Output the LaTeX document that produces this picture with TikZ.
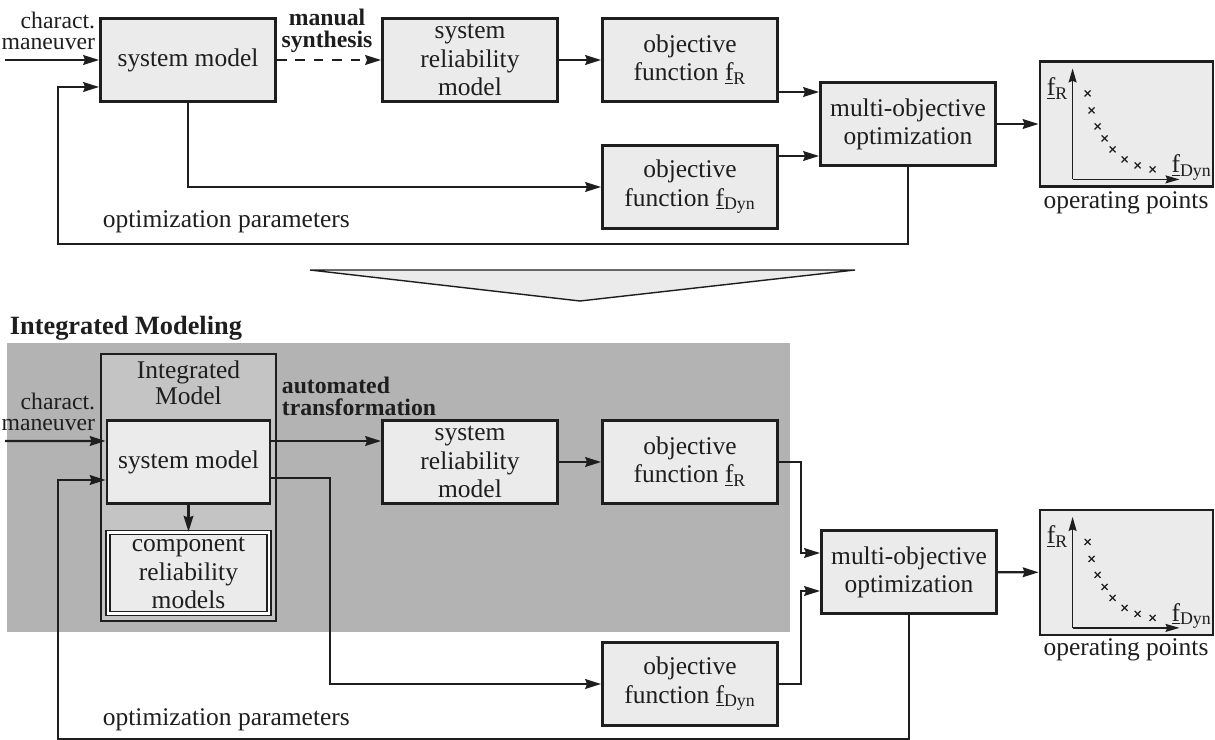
\documentclass[tikz,border=0pt]{standalone}
\usepackage{fontspec}
\setmainfont{Liberation Serif}
\usetikzlibrary{arrows.meta}

\definecolor{ink}{HTML}{1E1E1E}
\definecolor{boxgray}{HTML}{EBEBEB}
\definecolor{bandgray}{HTML}{B3B3B3}
\definecolor{intgray}{HTML}{C4C4C4}

\newcommand{\fsub}[1]{\underline{f}\textsubscript{#1}}

\tikzset{
  block/.style={rectangle, draw=ink, line width=1.6pt, fill=boxgray, align=center,
    minimum width=3.5cm, minimum height=1.66cm, inner sep=2pt,
    font=\fontsize{14.5}{16}\selectfont},
  plotbox/.style={rectangle, draw=ink, line width=1.6pt, fill=boxgray,
    minimum width=3.46cm, minimum height=2.5cm},
  txt/.style={inner sep=1pt, font=\fontsize{14.5}{16}\selectfont},
  boldtxt/.style={inner sep=1pt, align=left, font=\fontsize{13.5}{12.5}\selectfont\bfseries},
  sidetxt/.style={inner sep=1pt, anchor=east, align=right, font=\fontsize{13.5}{12}\selectfont},
}

\begin{document}
\begin{tikzpicture}[x=0.02cm, y=-0.02cm, color=ink, line width=1.3pt,
    >={Stealth[length=9pt, width=5.5pt, inset=1pt]}]
\useasboundingbox (0,0) rectangle (1215,740);

% manual synthesis
\node (man1) at (98,31) [sidetxt] {charact.\\maneuver};
\node (manual) at (327,31) [boldtxt, align=center] {manual\\synthesis};
\node (opt1) at (100,222) [txt, anchor=west] {optimization parameters};

\begin{scope}[every node/.style={block}]
    \node (sm1) at (188,60) {system model};
    \node (srm1) at (470,60) {system\\reliability\\model};
    \node (ofR1) at (690,60) {objective\\function \fsub{R}};
    \node (ofDyn1) at (690,187) {objective\\function \fsub{Dyn}};
    \node (mo1) at (908,124) {multi-objective\\optimization};
\end{scope}
\node (plot1) at (1126.5,124) [plotbox] {};
\node (op1) at (1126,203) [txt] {operating points};

\filldraw[fill=boxgray, line width=0.8pt] (310,270) -- (855,270) -- (580,301) -- cycle;

% integrated modeling
\fill[bandgray] (7,343) rectangle (790,632);
\node (imhead) at (7,328) [inner sep=1pt, anchor=west, font=\fontsize{15}{17}\selectfont\bfseries] {Integrated Modeling};
\node (imodel) at (188.5,487.5) [rectangle, draw, line width=1.6pt, fill=intgray,
    minimum width=3.5cm, minimum height=5.34cm] {};
\node (imtext) at (188.5,383) [txt, align=center, font=\fontsize{14.5}{15}\selectfont] {Integrated\\Model};
\node (man2) at (98,412) [sidetxt] {charact.\\maneuver};
\node (auto) at (279,396) [boldtxt, anchor=west] {automated\\transformation};
\node (opt2) at (100,720) [txt, anchor=west] {optimization parameters};

\begin{scope}[every node/.style={block}]
    \node (sm2) at (188.5,462) [minimum width=3.26cm] {system model};
    \node (comp) at (188.5,573) [minimum width=3.22cm, minimum height=1.62cm,
        line width=0.9pt, double, double distance=1.2pt] {component\\reliability\\models};
    \node (srm2) at (470,462) {system\\reliability\\model};
    \node (ofR2) at (690,462) {objective\\function \fsub{R}};
    \node (ofDyn2) at (690,684) {objective\\function \fsub{Dyn}};
    \node (mo2) at (909,572) {multi-objective\\optimization};
\end{scope}
\node (plot2) at (1126.5,572.5) [plotbox] {};
\node (op2) at (1126,650) [txt] {operating points};

% pareto plots
\foreach \i in {1,2} {
    \coordinate (org\i) at ([xshift=0.68cm, yshift=0.17cm]plot\i.south west);
    \draw[-{Stealth[length=8pt, width=4.5pt, inset=1pt]}, line width=1pt] (org\i) -- ++(0,2.22cm);
    \draw[-{Stealth[length=8pt, width=4.5pt, inset=1pt]}, line width=1pt] (org\i) -- ++(2.14cm,0);
    \foreach \dx/\dy in {15/86, 19/69, 25/53, 32/41, 40/30, 52/20, 65/14, 80/10}
        \draw[line width=0.7pt] ([shift={(\dx,-\dy)}]org\i)
            +(-1.7pt,-1.7pt) -- +(1.7pt,1.7pt) +(-1.7pt,1.7pt) -- +(1.7pt,-1.7pt);
    \node (fr\i) at ([shift={(-15,-91)}]org\i) [txt] {\fsub{R}};
    \node (fdyn\i) at ([shift={(119,-12)}]org\i) [txt] {\fsub{Dyn}};
}

% ports
\coordinate (in1) at (5,60);
\coordinate (fb1) at (58,244);
\coordinate (sm1in2) at ([yshift=-0.54cm]sm1.west);
\coordinate (mo1in1) at ([yshift=0.64cm]mo1.west);
\coordinate (mo1in2) at ([yshift=-0.64cm]mo1.west);

\coordinate (in2) at (5,441);
\coordinate (fb2) at (58,739);
\coordinate (sm2in1) at ([yshift=0.42cm]sm2.west);
\coordinate (sm2in2) at ([yshift=-0.36cm]sm2.west);
\coordinate (sm2out1) at ([yshift=0.42cm]sm2.east);
\coordinate (sm2out2) at ([yshift=-0.32cm]sm2.east);
\coordinate (dynbend) at (330,600);
\coordinate (mo2in1) at ([yshift=0.38cm]mo2.west);
\coordinate (mo2in2) at ([yshift=-0.38cm]mo2.west);

\begin{scope}[every path/.style={->}]
    \draw (in1) -- (sm1.west |- in1);
    \draw[dash pattern=on 5.5pt off 5pt] (sm1) -- (srm1);
    \draw (srm1) -- (ofR1);
    \draw (ofR1.east |- mo1in1) -- (mo1in1);
    \draw (ofDyn1.east |- mo1in2) -- (mo1in2);
    \draw (sm1) |- (ofDyn1);
    \draw (mo1) -- (plot1);
    \draw (mo1) |- (fb1) |- (sm1in2);

    \draw (in2) -- (sm2in1);
    \draw (sm2out1) -- (srm2.west |- sm2out1);
    \draw (sm2out2) -| (dynbend) |- (ofDyn2);
    \draw (sm2) -- (comp);
    \draw (srm2) -- (ofR2);
    \draw (ofR2.east) -- ++(0.44cm,0) |- (mo2in1);
    \draw (ofDyn2.east) -- ++(0.44cm,0) |- (mo2in2);
    \draw (mo2) -- (plot2);
    \draw (mo2) |- (fb2) |- (sm2in2);
\end{scope}
\end{tikzpicture}
\end{document}
